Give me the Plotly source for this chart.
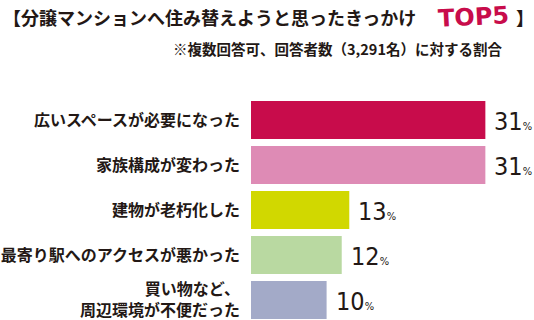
import plotly.graph_objects as go

categories = [
    "広いスペースが必要になった",
    "家族構成が変わった",
    "建物が老朽化した",
    "最寄り駅へのアクセスが悪かった",
    "買い物など、<br>周辺環境が不便だった",
]
values = [31, 31, 13, 12, 10]
colors = ["#C80C4B", "#DE8BB5", "#D1D800", "#B9D9A1", "#A3AAC8"]

title_main = "【分譲マンションへ住み替えようと思ったきっかけ"
title_top = "TOP5"
title_close = "】"
subtitle = "※複数回答可、回答者数（3,291名）に対する割合"

W, H = 534, 320
L, R, T, B = 251, 0, 75, 0
PW, PH = W - L - R, H - T - B
TXT = "#231815"
JP = "Noto Sans CJK JP"


def px(x):
    return (x - L) / PW


def py(y):
    return (H - B - y) / PH


fig = go.Figure(
    go.Bar(
        x=values,
        y=categories,
        orientation="h",
        marker=dict(color=colors, line=dict(width=0)),
        width=0.844,
        hoverinfo="skip",
    )
)

annotations = []
for c, v in zip(categories, values):
    annotations.append(
        dict(
            x=v, y=c, xref="x", yref="y", xanchor="left", yanchor="middle",
            xshift=7, yshift=-1, showarrow=False,
            text=f"{v}<span style='font-size:11px'>%</span>",
            font=dict(family="Liberation Sans Narrow, DejaVu Sans Condensed, sans-serif",
                      size=25, color=TXT),
        )
    )

annotations += [
    dict(x=px(1), y=py(17), xref="paper", yref="paper", xanchor="left", yanchor="middle",
         showarrow=False, text=title_main, font=dict(family=JP, size=18, color=TXT, weight=700)),
    dict(x=px(473), y=py(17), xref="paper", yref="paper", xanchor="center", yanchor="middle",
         showarrow=False, text=title_top, textangle=-3,
         font=dict(family="DejaVu Sans", size=24, color="#C80C4B", weight=700)),
    dict(x=px(514), y=py(17), xref="paper", yref="paper", xanchor="left", yanchor="middle",
         showarrow=False, text=title_close, font=dict(family=JP, size=18, color=TXT, weight=700)),
    dict(x=px(171), y=py(48), xref="paper", yref="paper", xanchor="left", yanchor="middle",
         showarrow=False, text=subtitle, font=dict(family=JP, size=14.5, color=TXT, weight=700)),
]

fig.update_layout(
    width=W, height=H,
    margin=dict(l=L, r=R, t=T, b=B, pad=0),
    paper_bgcolor="white", plot_bgcolor="white",
    showlegend=False,
    annotations=annotations,
    xaxis=dict(range=[0, PW / 7.56], visible=False, fixedrange=True),
    yaxis=dict(
        range=[4.444, -1.0], showgrid=False, zeroline=False, showline=False,
        ticks="", ticklabelstandoff=10, fixedrange=True,
        tickfont=dict(family=JP, size=16, color=TXT, weight=700),
    ),
)

fig.write_html("out.html", config={"displayModeBar": False})
